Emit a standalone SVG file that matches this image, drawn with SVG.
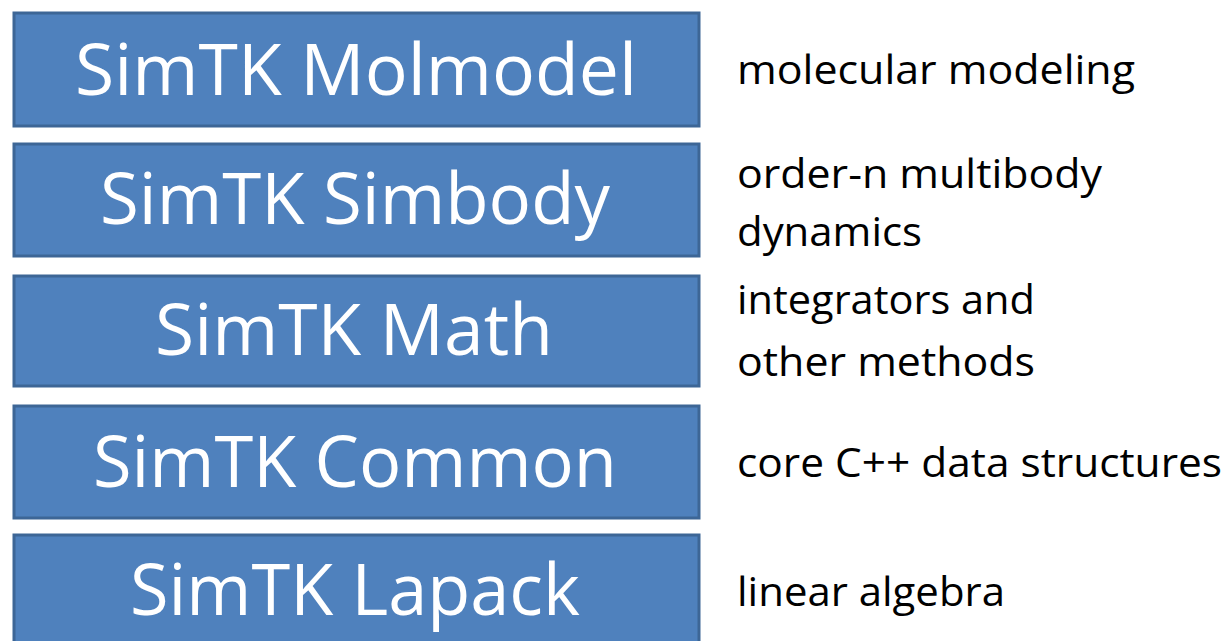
<svg xmlns="http://www.w3.org/2000/svg" width="1229" height="641" viewBox="0 0 1229 641">
<style>
.box{fill:#4f81bd;stroke:#3d6696;stroke-width:3}
.t{font-family:"Open Sans","Noto Sans",sans-serif;font-size:72px;fill:#ffffff}
.d{font-family:"Open Sans","Noto Sans",sans-serif;font-size:41px;fill:#000000}
</style>
<rect width="1229" height="641" fill="#ffffff"/>
<g id="molmodel">
<rect class="box" x="14" y="13" width="685" height="113"/>
<text class="t" x="75" y="95" textLength="562" lengthAdjust="spacingAndGlyphs">SimTK Molmodel</text>
</g>
<g id="simbody">
<rect class="box" x="14" y="144" width="685" height="112"/>
<text class="t" x="100" y="224" textLength="510" lengthAdjust="spacingAndGlyphs">SimTK Simbody</text>
</g>
<g id="math">
<rect class="box" x="14" y="276" width="685" height="110"/>
<text class="t" x="155" y="355" textLength="398" lengthAdjust="spacingAndGlyphs">SimTK Math</text>
</g>
<g id="common">
<rect class="box" x="14" y="406" width="685" height="112"/>
<text class="t" x="93" y="487" textLength="524" lengthAdjust="spacingAndGlyphs">SimTK Common</text>
</g>
<g id="lapack">
<rect class="box" x="14" y="535" width="685" height="120"/>
<text class="t" x="130" y="615" textLength="450" lengthAdjust="spacingAndGlyphs">SimTK Lapack</text>
</g>
<g id="labels">
<text class="d" x="737" y="84" textLength="398" lengthAdjust="spacingAndGlyphs">molecular modeling</text>
<text class="d" x="737" y="188" textLength="365" lengthAdjust="spacingAndGlyphs">order-n multibody</text>
<text class="d" x="737" y="246" textLength="185" lengthAdjust="spacingAndGlyphs">dynamics</text>
<text class="d" x="737" y="314" textLength="298" lengthAdjust="spacingAndGlyphs">integrators and</text>
<text class="d" x="737" y="376" textLength="298" lengthAdjust="spacingAndGlyphs">other methods</text>
<text class="d" x="737" y="477" textLength="485" lengthAdjust="spacingAndGlyphs">core C++ data structures</text>
<text class="d" x="737" y="606" textLength="268" lengthAdjust="spacingAndGlyphs">linear algebra</text>
</g>
<g id="connectors"></g>
</svg>
